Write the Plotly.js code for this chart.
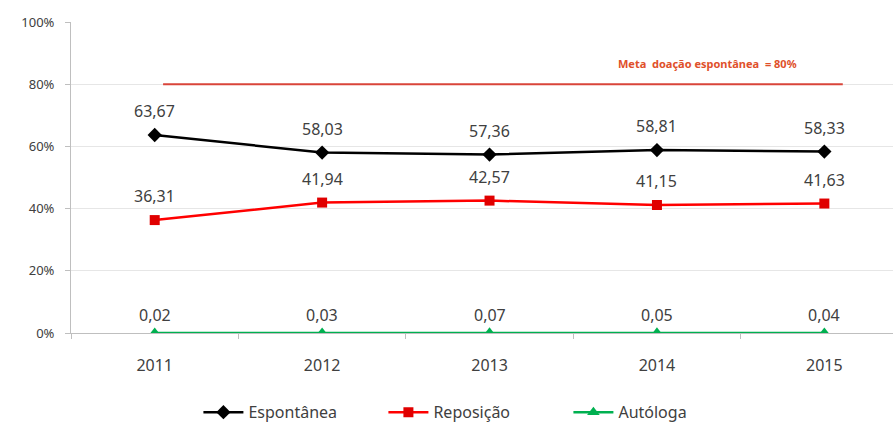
<!DOCTYPE html>
<html><head><meta charset="utf-8">
<script src="https://cdn.plot.ly/plotly-3.0.1.min.js"></script>
<style>html,body{margin:0;padding:0;background:#fff;}#chart{width:896px;height:428px;}</style>
</head><body><div id="chart"></div>
<script>
const years = ['2011','2012','2013','2014','2015'];
const espontanea = [63.67, 58.03, 57.36, 58.81, 58.33];
const reposicao = [36.31, 41.94, 42.57, 41.15, 41.63];
const autologa = [0.02, 0.03, 0.07, 0.05, 0.04];
const metaValue = 80;
const metaLabel = 'Meta  doação espontânea  = 80%';
const yTickVals = [0, 20, 40, 60, 80, 100];
const yTickText = ['0%', '20%', '40%', '60%', '80%', '100%'];

const fmt = v => v.toFixed(2).replace('.', ',');
const font = 'Noto Sans, Open Sans, sans-serif';

const traces = [
  {x: years, y: espontanea, name: 'Espontânea', mode: 'lines+markers', type: 'scatter',
   line: {color: '#000000', width: 2.5}, marker: {symbol: 'diamond', size: 11, color: '#000000'}},
  {x: years, y: reposicao, name: 'Reposição', mode: 'lines+markers', type: 'scatter',
   line: {color: '#FF0000', width: 2.5}, marker: {symbol: 'square', size: 10, color: '#E00000'}},
  {x: years, y: autologa, name: 'Autóloga', mode: 'lines+markers', type: 'scatter',
   line: {color: '#00B050', width: 2.5}, marker: {symbol: 'triangle-up', size: 11, color: '#00B050'}}
];

const annotations = [];
[[espontanea, 24], [reposicao, 24], [autologa, 18]].forEach(([arr, sh]) => {
  arr.forEach((v, i) => annotations.push({
    x: i, y: v, xref: 'x', yref: 'y', text: fmt(v), showarrow: false,
    yshift: sh, font: {family: font, size: 16, color: '#404040'}
  }));
});
annotations.push({x: 3.3, y: metaValue, xref: 'x', yref: 'y', text: '<b>' + metaLabel + '</b>',
  showarrow: false, yshift: 21, font: {family: font, size: 11, color: '#E0502A'}});

const layout = {
  width: 896, height: 428,
  margin: {l: 71, r: 3, t: 22, b: 95, autoexpand: false},
  paper_bgcolor: '#ffffff', plot_bgcolor: '#ffffff',
  showlegend: true,
  legend: {orientation: 'h', x: 0.155, xanchor: 'left', y: -0.255, yanchor: 'middle',
    font: {family: font, size: 16, color: '#404040'}, itemwidth: 40, tracegroupgap: 0,
    entrywidth: 130, entrywidthmode: 'pixels'},
  xaxis: {type: 'category', range: [-0.5, 4.41], showgrid: false, showline: true,
    linecolor: '#BFBFBF', linewidth: 1, ticks: 'outside', tickson: 'boundaries', ticklen: 5,
    tickcolor: '#BFBFBF', ticklabelstandoff: 18,
    tickfont: {family: font, size: 16, color: '#404040'}, zeroline: false, fixedrange: true},
  yaxis: {range: [0, 100], tickvals: yTickVals, ticktext: yTickText, showgrid: true,
    gridcolor: '#E6E6E6', showline: true, linecolor: '#BFBFBF', ticks: 'outside', ticklen: 5,
    ticklabelstandoff: 8,
    tickcolor: '#BFBFBF', tickfont: {family: font, size: 13, color: '#404040'}, zeroline: false},
  shapes: [{type: 'line', xref: 'x', yref: 'y', x0: 0.05, x1: 4.11, y0: metaValue, y1: metaValue,
    line: {color: '#D9453A', width: 2}}],
  annotations: annotations
};
Plotly.newPlot('chart', traces, layout, {displayModeBar: false, staticPlot: true});
</script></body></html>
